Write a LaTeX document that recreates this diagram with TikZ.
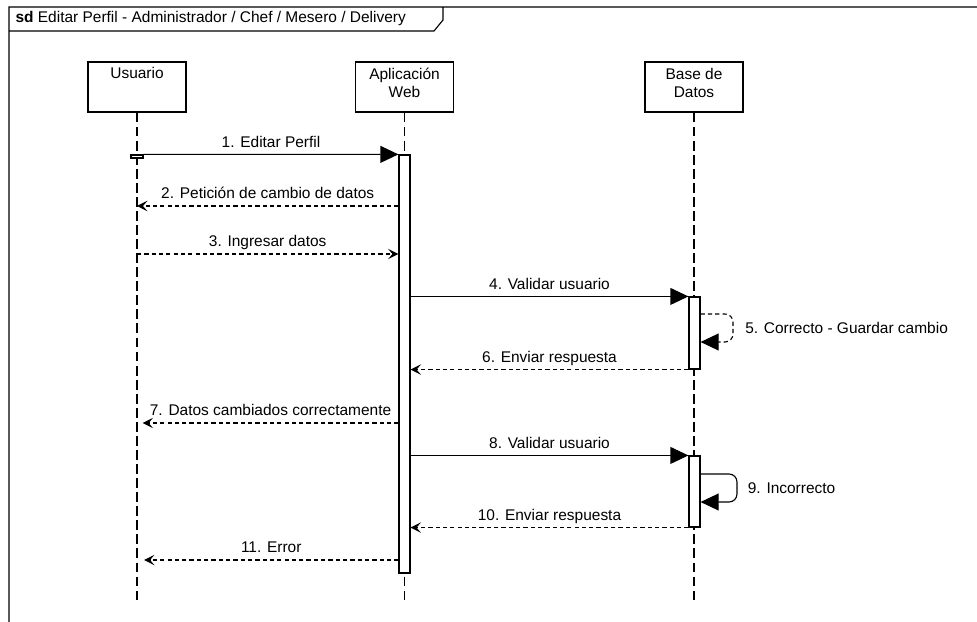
\documentclass[tikz,border=0pt]{standalone}
\usepackage{fontspec}
\setmainfont{Liberation Sans}
\usetikzlibrary{arrows.meta}

\begin{document}
\begin{tikzpicture}[x=0.025cm, y=-0.025cm, line width=0.8pt,
    every node/.style={font=\fontsize{11}{13.5}\selectfont},
    lifebox/.style={draw, minimum width=2.45cm, minimum height=1.25cm},
    lifeline/.style={dash pattern=on 7pt off 3pt},
    act/.style={draw, fill=white, minimum width=0.275cm, inner sep=0pt},
    dsh/.style={dash pattern=on 3pt off 2.2pt},
    call/.style={-{Triangle[length=0.45cm,width=0.42cm]}},
    reply/.style={dsh, -{Stealth[length=2.6mm,width=2.6mm,inset=1.1mm]}},
    msg/.style={midway, anchor=base, yshift=5pt}]

    \useasboundingbox (0,0) rectangle (977,622);

    \path[draw] (9,622) -- (9,7) -- (977,7)
                (9,31) -- (434,31) -- (443,20) -- (443,7);
    \node[anchor=base west, inner sep=0pt] (title) at (15,23) {\textbf{sd} Editar Perfil - Administrador / Chef / Mesero / Delivery};

    \node[lifebox] (usr) at (137,87) {};
    \node[lifebox] (app) at (404.5,87) {};
    \node[lifebox] (bd) at (694,87) {};
    \node[anchor=base, inner sep=0pt] (usrtxt) at (137,79) {Usuario};
    \node[anchor=base, inner sep=0pt, align=center] (apptxt) at (404.5,98) {Aplicación\\Web};
    \node[anchor=base, inner sep=0pt, align=center] (bdtxt) at (694,98) {Base de\\Datos};

    \coordinate (usrend) at (137,600);
    \coordinate (append) at (404.5,600);
    \coordinate (bdend) at (694,600);
    \path[draw, lifeline] (usr) -- (usrend)
                          (app) -- (append)
                          (bd) -- (bdend);

    \node[act, minimum width=0.3cm, minimum height=0.075cm] (usract) at (137,156.5) {};
    \node[act, minimum height=10.45cm] (appact) at (404.5,364) {};
    \node[act, minimum height=1.8cm] (bdact1) at (694.5,333) {};
    \node[act, minimum height=1.775cm] (bdact2) at (694.5,491.5) {};

    \path[draw, call] (usract.north east) -- node[msg] (m1) {1. Editar Perfil} (appact.north west);
    \path[draw, reply] (appact.west |- 0,206) -- node[msg] (m2) {2. Petición de cambio de datos} (usrend |- 0,206);
    \path[draw, reply] (usrend |- 0,254) -- node[msg] (m3) {3. Ingresar datos} (appact.west |- 0,254);
    \path[draw, call] (appact.east |- bdact1.north) -- node[msg] (m4) {4. Validar usuario} (bdact1.north west);
    \path[draw, call, dsh, rounded corners=0.2cm] (bdact1.east |- 0,314) -- (733,314)
        -- node[right=5pt] (m5) {5. Correcto - Guardar cambio} (733,342) -- (bdact1.east |- 0,342);
    \path[draw, reply] (bdact1.south west) -- node[msg] (m6) {6. Enviar respuesta} (appact.east |- bdact1.south);
    \path[draw, reply] (appact.west |- 0,423) -- node[msg] (m7) {7. Datos cambiados correctamente} ([xshift=4pt]usrend |- 0,423);
    \path[draw, call] (appact.east |- bdact2.north) -- node[msg] (m8) {8. Validar usuario} (bdact2.north west);
    \path[draw, call, rounded corners=0.2cm] (bdact2.east |- 0,474) -- (737,474)
        -- node[right=4pt] (m9) {9. Incorrecto} (737,502) -- (bdact2.east |- 0,502);
    \path[draw, reply] (bdact2.south west) -- node[msg] (m10) {10. Enviar respuesta} (appact.east |- bdact2.south);
    \path[draw, reply] (appact.west |- 0,560) -- node[msg] (m11) {11. Error} ([xshift=5pt]usrend |- 0,560);

\end{tikzpicture}
\end{document}
